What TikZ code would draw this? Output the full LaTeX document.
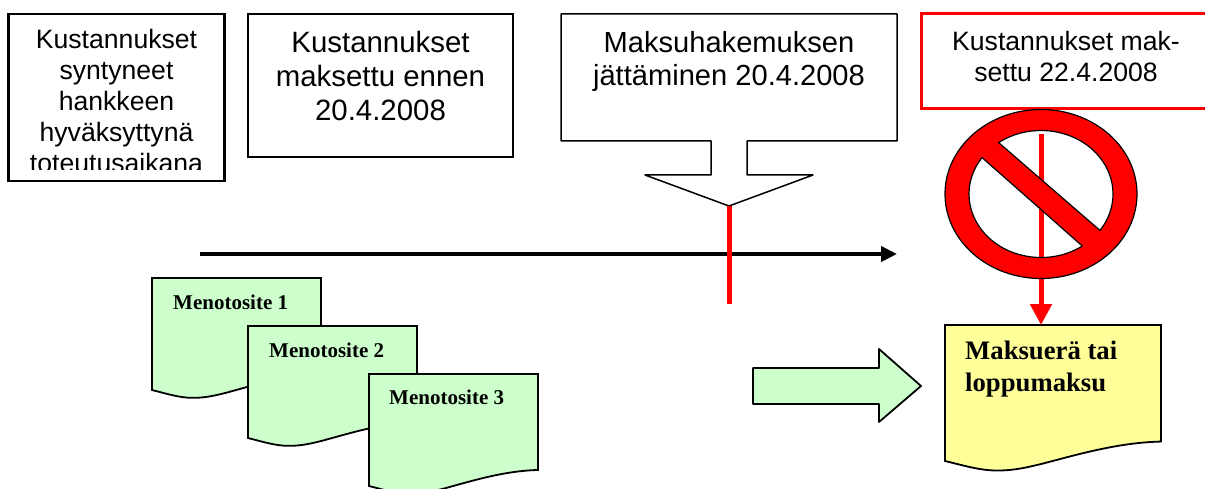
\documentclass[tikz,border=0pt]{standalone}
\usepackage{fontspec}
\setmainfont{Liberation Serif}
\newfontfamily\arialfont{Liberation Sans}
\usetikzlibrary{arrows.meta,positioning}
\definecolor{menogreen}{HTML}{CCFFCC}
\definecolor{maksuyellow}{HTML}{FFFF99}
\tikzset{
    box/.style={draw=black,line width=2.5pt,inner sep=0pt},
    boxtext/.style n args={2}{inner sep=0pt,align=center,anchor=north,font=\arialfont\fontsize{#1}{#2}\selectfont},
    doctext/.style={inner sep=0pt,anchor=base west,font=\bfseries\fontsize{21}{25}\selectfont},
    docline/.style={draw=black,line width=1.8pt},
    redline/.style={red,line width=5pt},
    docpage/.pic={
        \path[pic actions] (0,0) -- (1,0) -- (1,.857)
            .. controls (.8,.865) and (.62,.95) .. (.45,1.02)
            .. controls (.35,1.06) and (.3,1.07) .. (.24,1.07)
            .. controls (.16,1.07) and (.08,1.03) .. (0,1) -- cycle;
    }
}

\begin{document}
\begin{tikzpicture}[x=1pt,y=-1pt]
    \clip (0,0) rectangle (1205,489);

    \node (box1) [box,minimum width=216pt,minimum height=167pt] at (116.5,97.5) {};
    \node (box2) [box,minimum width=265pt,minimum height=143pt] at (380.5,85.5) {};
    \node (box4) [box,draw=red,line width=3pt,minimum width=294pt,minimum height=95pt] at (1068,61) {};

    \begin{scope}
        \clip (10,16) rectangle (223,170);
        \node (text1) [boxtext={26.6}{31}] at (116.5,29.5)
            {Kustannukset\\syntyneet\\hankkeen\\hyväksyttynä\\toteutusaikana};
    \end{scope}
    \node (text2) [boxtext={29.4}{34}] at (380.5,31)
        {Kustannukset\\maksettu ennen\\20.4.2008};
    \node (text4) [boxtext={26.6}{31}] at (1066,31)
        {Kustannukset mak-\\settu 22.4.2008};

    \draw[line width=1.5pt,line join=round] (561,14) -- (897,14) -- (897,141) -- (747,141) -- (747,175) -- (813,175)
        -- (729,206) coordinate (tip) -- (645,175) -- (711,175) -- (711,141) -- (561,141) -- cycle;
    \node (text3) [boxtext={29.1}{33}] at (729,31.5)
        {Maksuhakemuksen\\jättäminen 20.4.2008};

    \coordinate (timeA) at (200,254);
    \coordinate (timeB) at (897,254);
    \coordinate (stemEnd) at (729,304);
    \draw[line width=4.6pt,-{Triangle[length=16pt,width=15pt]}] (timeA) -- (timeB);
    \draw[redline] (tip) -- (stemEnd);

    \foreach \n/\px/\py/\tx/\ty in {1/152/278/173/309,2/248/326/269/357,3/369/374/389/404}{
        \path (\px,\py) pic[docline,fill=menogreen,x=169pt,y=-112pt] {docpage};
        \node (meno\n) [doctext] at (\tx,\ty) {Menotosite \n};
    }

    \draw[docline,fill=menogreen,line join=round] (753,368) -- (879,368) -- (879,349) -- (921,386) -- (879,422) -- (879,404) -- (753,404) -- cycle;

    \path (945,325) pic[docline,fill=maksuyellow,x=216pt,y=-136pt] {docpage};
    \node (maksu) [doctext,font=\bfseries\fontsize{26.7}{32}\selectfont,anchor=north west,align=left] at (965,341)
        {Maksuerä tai\\loppumaksu};

    \fill[red] (1041,194) ellipse [x radius=96,y radius=84.5];
    \fill[white] (1041,194) ++(234:72 and 63.5) arc [start angle=234,end angle=395,x radius=72,y radius=63.5] -- cycle;
    \fill[white] (1041,194) ++(55:72 and 63.5) arc [start angle=55,end angle=215,x radius=72,y radius=63.5] -- cycle;
    \coordinate (stopTop) at (1041,134);
    \coordinate (maksuTop) at (1041,325);
    \draw[redline,-{Triangle[length=21pt,width=21pt]}] (stopTop) -- (maksuTop);
    \draw[line width=1.2pt] (1041,194) ++(234:72 and 63.5) arc [start angle=234,end angle=395,x radius=72,y radius=63.5] -- cycle;
    \draw[line width=1.2pt] (1041,194) ++(55:72 and 63.5) arc [start angle=55,end angle=215,x radius=72,y radius=63.5] -- cycle;
    \draw[line width=1.2pt] (1041,194) ellipse [x radius=96,y radius=84.5];
\end{tikzpicture}
\end{document}
